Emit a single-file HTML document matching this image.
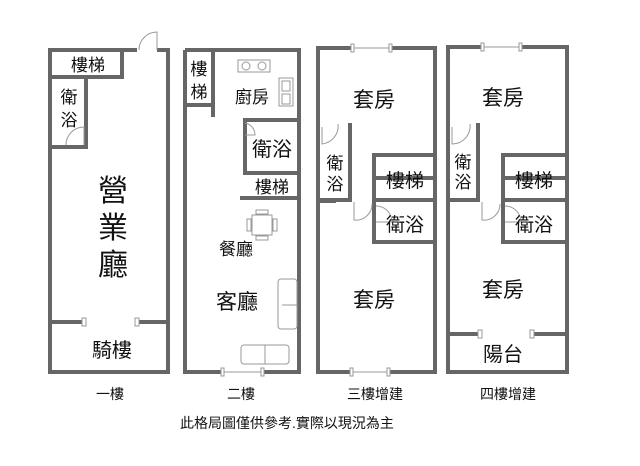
<!DOCTYPE html>
<html><head><meta charset="utf-8"><style>
body{margin:0;background:#fff;}
svg text{font-family:"Liberation Sans","Noto Sans CJK TC",sans-serif;fill:#111;text-anchor:middle;}
</style></head><body>
<svg width="640" height="461" viewBox="0 0 640 461" xmlns="http://www.w3.org/2000/svg">
<g fill="none" stroke="#666" stroke-width="4">
<path d="M137 50 H50 V372 H168 V50 H157"/>
<path d="M52 77 H122 V52"/>
<path d="M52 147 H86 V79"/>
<path d="M52 322 H84 M137 322 H166"/>
<path d="M185 50 H299 V372 H263 M222 372 H185 V50"/>
<path d="M185 105 H213 V52 M213 105 V117"/>
<path d="M297 120 H245 V173 H297"/>
<path d="M240 198 H297"/>
<path d="M352 48 H318 V372 H352 M388 372 H435 V48 H391"/>
<path d="M320 200 H350 V123"/>
<path d="M433 155 H374 V242 H433 M376 178 H433 M376 200 H433"/>
<path d="M320 201 H336"/>
<path d="M482 47 H448 V372 H567 V47 H520"/>
<path d="M450 200 H478 V123"/>
<path d="M565 155 H503 V242 H565 M505 178 H565 M505 200 H565"/>
<path d="M450 334 H480 M532 334 H565"/>
</g>
<g fill="none" stroke="#999" stroke-width="1">
<path d="M157 50 V32 A18 18 0 0 0 139 50"/>
<path d="M84 145 V127 A18 18 0 0 0 66 145"/>
<path d="M222 372 H263 M352 48 H391 M352 372 H388 M482 47 H520"/>
<path d="M322 127 V144 A18 18 0 0 0 338 124"/>
<path d="M354 202 V220 A16 16 0 0 0 372 204"/>
<path d="M376 222 H392 A16 16 0 0 0 376 206"/>
<path d="M452 127 V144 A18 18 0 0 0 470 124"/>
<path d="M482 202 V220 A16 16 0 0 0 500 204"/>
<path d="M505 222 H521 A16 16 0 0 0 505 206"/>
<path d="M245 135 H255 A12 12 0 0 0 245 123"/>
<rect x="238" y="60" width="32" height="12"/><circle cx="246" cy="66" r="4"/><circle cx="262" cy="66" r="4"/>
<rect x="279" y="78" width="14" height="28"/><rect x="282" y="81" width="8" height="10"/><rect x="282" y="94" width="8" height="10"/>
<rect x="252" y="215" width="20" height="20"/><rect x="256" y="210" width="12" height="4"/><rect x="256" y="236" width="12" height="4"/><rect x="247" y="219" width="4" height="12"/><rect x="273" y="219" width="4" height="12"/>
<rect x="278" y="279" width="19" height="50" rx="3"/><path d="M282 305 H297"/>
<rect x="241" y="345" width="48" height="19" rx="3"/><path d="M265 345 V364"/>
</g>
<g fill="#fff" stroke="#999" stroke-width="1">
<rect x="82" y="318" width="4" height="8"/><rect x="135" y="318" width="4" height="8"/>
<rect x="478" y="330" width="4" height="8"/><rect x="530" y="330" width="4" height="8"/>
<rect x="221" y="368" width="3" height="8"/><rect x="261" y="368" width="3" height="8"/>
<rect x="351" y="44" width="3" height="8"/><rect x="389" y="44" width="3" height="8"/>
<rect x="350" y="368" width="3" height="8"/><rect x="387" y="368" width="3" height="8"/>
<rect x="481" y="43" width="3" height="8"/><rect x="519" y="43" width="3" height="8"/>
</g>
<g font-size="17">
<text x="88" y="71">樓梯</text>
<text x="69" y="103">衛</text><text x="69" y="126">浴</text>
<text x="112" y="357" font-size="20">騎樓</text>
<text x="199" y="75">樓</text><text x="199" y="98">梯</text>
<text x="252" y="103">廚房</text>
<text x="272" y="156" font-size="20">衛浴</text>
<text x="272" y="193">樓梯</text>
<text x="236" y="255">餐廳</text>
<text x="237" y="309" font-size="21">客廳</text>
<text x="374" y="107" font-size="21">套房</text>
<text x="335" y="169">衛</text><text x="335" y="190">浴</text>
<text x="405" y="187" font-size="19">樓梯</text>
<text x="405" y="231" font-size="19">衛浴</text>
<text x="374" y="307" font-size="21">套房</text>
<text x="503" y="105" font-size="21">套房</text>
<text x="463" y="168">衛</text><text x="463" y="188">浴</text>
<text x="534" y="187" font-size="19">樓梯</text>
<text x="534" y="231" font-size="19">衛浴</text>
<text x="503" y="297" font-size="21">套房</text>
<text x="503" y="361" font-size="20">陽台</text>
</g>
<g font-size="30"><text x="113" y="201">營</text><text x="113" y="238">業</text><text x="113" y="275">廳</text></g>
<g font-size="14">
<text x="110" y="399">一樓</text><text x="241" y="399">二樓</text>
<text x="375" y="399">三樓增建</text><text x="508" y="399">四樓增建</text>
<text x="287" y="428">此格局圖僅供參考.實際以現況為主</text>
</g>
</svg>
</body></html>
